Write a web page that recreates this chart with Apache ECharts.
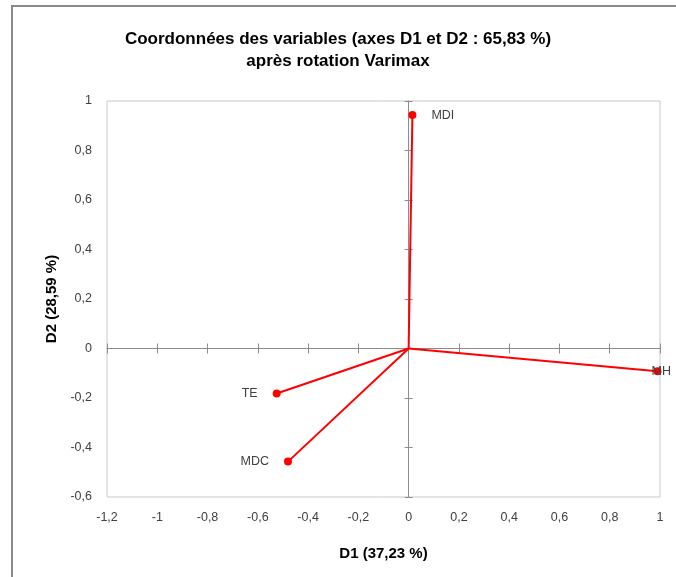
<!DOCTYPE html>
<html>
<head>
<meta charset="utf-8">
<script src="https://cdn.jsdelivr.net/npm/echarts@6/dist/echarts.min.js"></script>
<style>
html,body{margin:0;padding:0;background:#fff;}
#wrap{position:relative;width:676px;height:577px;overflow:hidden;}
#chart{position:absolute;left:0;top:0;width:676px;height:577px;}
#frame{position:absolute;left:11px;top:5px;width:700px;height:600px;border-top:2px solid #8a8a8a;border-left:2px solid #8a8a8a;pointer-events:none;}
</style>
</head>
<body>
<div id="wrap"><div id="chart"></div><div id="frame"></div></div>
<script>
const variables = ['MDI', 'MH', 'TE', 'MDC'];
const d1Values = [0.015, 0.99, -0.525, -0.48];
const d2Values = [0.943, -0.092, -0.182, -0.457];
const labelSides = ['right', 'right', 'left', 'left'];

const titleText = 'Coordonnées des variables (axes D1 et D2 : 65,83 %)\naprès rotation Varimax';
const xName = 'D1 (37,23 %)';
const yName = 'D2 (28,59 %)';

const FONT = '"Liberation Sans", Arial, sans-serif';
const fmt = v => String(Math.round(v * 10) / 10).replace('.', ',');

const xBase = {type: 'value', min: -1.2, max: 1, interval: 0.2, splitLine: {show: false}};
const yBase = {type: 'value', min: -0.6, max: 1, interval: 0.2, splitLine: {show: false}};

const series = variables.map((name, i) => ({
  type: 'line',
  name: name,
  xAxisIndex: 0, yAxisIndex: 0,
  data: [
    {value: [0, 0], symbol: 'none', label: {show: false}},
    {value: [d1Values[i], d2Values[i]]}
  ],
  symbol: 'circle',
  symbolSize: 8,
  showSymbol: true,
  lineStyle: {color: '#ff0000', width: 2},
  itemStyle: {color: '#ff0000'},
  label: {
    show: true,
    position: labelSides[i],
    distance: name === 'MH' ? -10 : 15,
    formatter: name,
    color: '#404040',
    fontSize: 12.5,
    fontFamily: FONT
  },
  emphasis: {disabled: true},
  z: 5
}));

const chart = echarts.init(document.getElementById('chart'));
chart.setOption({
  animation: false,
  backgroundColor: '#fff',
  title: {
    text: titleText,
    left: 'center', top: 23,
    textStyle: {fontFamily: FONT, fontSize: 17, fontWeight: 'bold', color: '#000', lineHeight: 22}
  },
  grid: {left: 107, right: 16, top: 101, bottom: 80, show: true, borderColor: '#c9c9c9', borderWidth: 1, backgroundColor: 'transparent'},
  xAxis: [
    Object.assign({}, xBase, {
      position: 'bottom',
      axisLine: {show: false, onZero: false},
      axisTick: {show: false},
      axisLabel: {formatter: fmt, color: '#404040', fontSize: 12.5, fontFamily: FONT, margin: 14},
      name: xName, nameLocation: 'middle', nameGap: 49,
      nameTextStyle: {fontFamily: FONT, fontSize: 15, fontWeight: 'bold', color: '#000'}
    }),
    Object.assign({}, xBase, {
      axisLine: {show: true, onZero: true, onZeroAxisIndex: 0, lineStyle: {color: '#8c8c8c', width: 1}},
      axisTick: {show: true, inside: false, length: 5, lineStyle: {color: '#8c8c8c'}},
      axisLabel: {show: false}
    }),
    Object.assign({}, xBase, {
      axisLine: {show: false, onZero: true, onZeroAxisIndex: 0},
      axisTick: {show: true, inside: true, length: 5, lineStyle: {color: '#8c8c8c'}},
      axisLabel: {show: false}
    })
  ],
  yAxis: [
    Object.assign({}, yBase, {
      position: 'left',
      axisLine: {show: false, onZero: false},
      axisTick: {show: false},
      axisLabel: {formatter: fmt, color: '#404040', fontSize: 12.5, fontFamily: FONT, margin: 15},
      name: yName, nameLocation: 'middle', nameGap: 46, nameRotate: 90,
      nameTextStyle: {fontFamily: FONT, fontSize: 15, fontWeight: 'bold', color: '#000'}
    }),
    Object.assign({}, yBase, {
      axisLine: {show: true, onZero: true, onZeroAxisIndex: 0, lineStyle: {color: '#8c8c8c', width: 1}},
      axisTick: {show: true, inside: false, length: 4, lineStyle: {color: '#8c8c8c'}},
      axisLabel: {show: false}
    }),
    Object.assign({}, yBase, {
      axisLine: {show: false, onZero: true, onZeroAxisIndex: 0},
      axisTick: {show: true, inside: true, length: 4, lineStyle: {color: '#8c8c8c'}},
      axisLabel: {show: false}
    })
  ],
  series: series
});
</script>
</body>
</html>
